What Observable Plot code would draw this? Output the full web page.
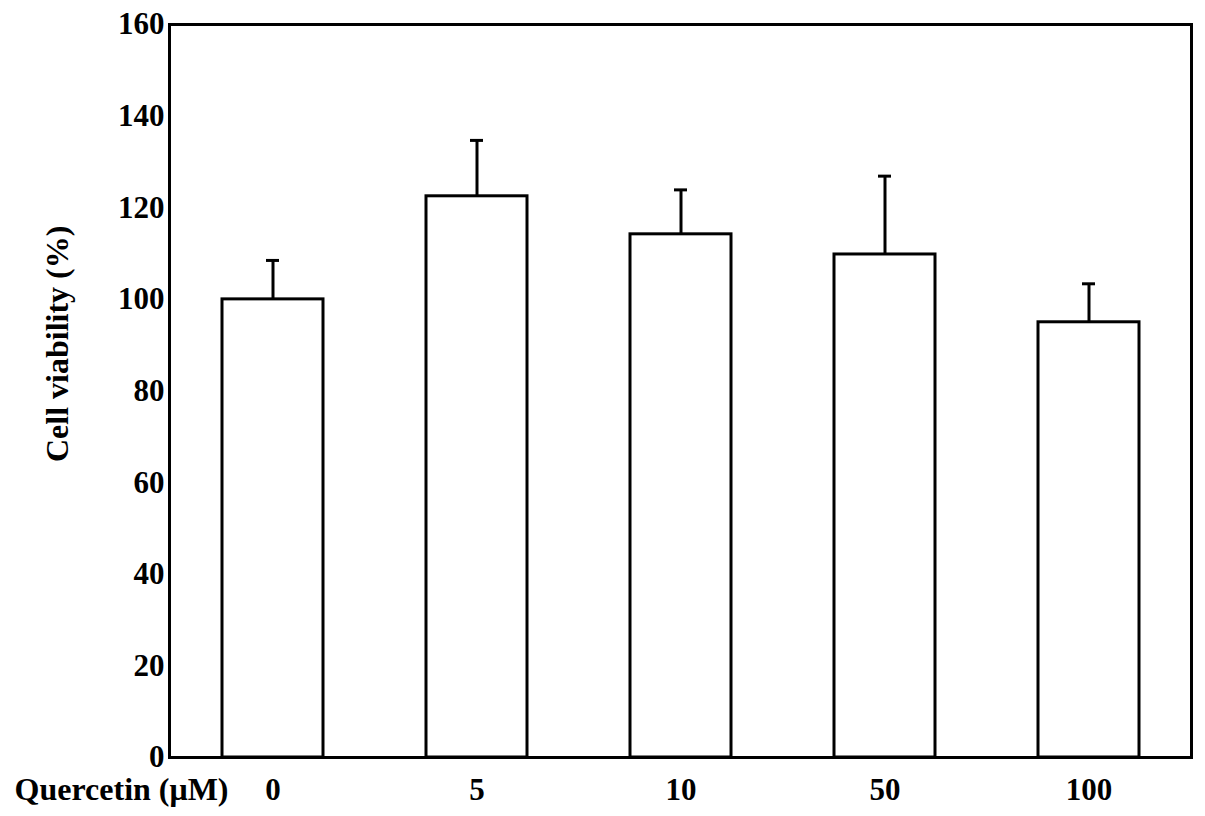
<!DOCTYPE html>
<html>
<head>
<meta charset="utf-8">
<script src="https://cdn.jsdelivr.net/npm/d3@7"></script>
<script src="https://cdn.jsdelivr.net/npm/@observablehq/plot@0.6"></script>
<style>
  html, body { margin: 0; padding: 0; background: white; }
</style>
</head>
<body>
<div id="chart"></div>
<script>
const categories = ["0", "5", "10", "50", "100"];
const means = [100, 122.5, 114.2, 109.8, 95.0];
const errors = [8.5, 12.2, 9.7, 17.1, 8.4];
const yTicks = [0, 20, 40, 60, 80, 100, 120, 140, 160];
const xTitle = "Quercetin (μM)";
const yTitle = "Cell viability (%)";

const data = categories.map((c, i) => ({ c, m: means[i], e: errors[i], top: means[i] + errors[i] }));

const chart = Plot.plot({
  width: 1205,
  height: 816,
  marginLeft: 169,
  marginRight: 14,
  marginTop: 24,
  marginBottom: 59,
  style: {
    fontFamily: "'Liberation Serif', 'Times New Roman', serif",
    fontSize: "31px",
    fontWeight: "bold",
    background: "white",
    color: "black"
  },
  x: { domain: categories, paddingInner: 0.506, paddingOuter: 0.254, label: null },
  y: { domain: [0, 160], ticks: yTicks, label: null },
  marks: [
    Plot.axisY({ ticks: yTicks, tickSize: 0, tickPadding: 5, label: null, fontSize: 31 }),
    Plot.axisX({ tickSize: 0, tickPadding: 20, label: null, fontSize: 31 }),
    Plot.ruleX(data, { x: "c", y1: "m", y2: "top", stroke: "black", strokeWidth: 3 }),
    Plot.tickY(data, { x: "c", y: "top", stroke: "black", strokeWidth: 3, insetLeft: 44, insetRight: 44 }),
    Plot.barY(data, { x: "c", y: "m", fill: "white", stroke: "black", strokeWidth: 3 }),
    Plot.frame({ stroke: "black", strokeWidth: 3 }),
    Plot.text([yTitle], { y: [90.3], text: d => d, frameAnchor: "left", rotate: -90, textAnchor: "middle", dx: -112, fontSize: 32, fontWeight: "bold", fill: "black" }),
    Plot.text([xTitle], { frameAnchor: "bottom-left", text: d => d, textAnchor: "end", dx: 59, dy: 42, fontSize: 32, fontWeight: "bold", fill: "black" })
  ]
});
document.getElementById("chart").appendChild(chart);
</script>
</body>
</html>
